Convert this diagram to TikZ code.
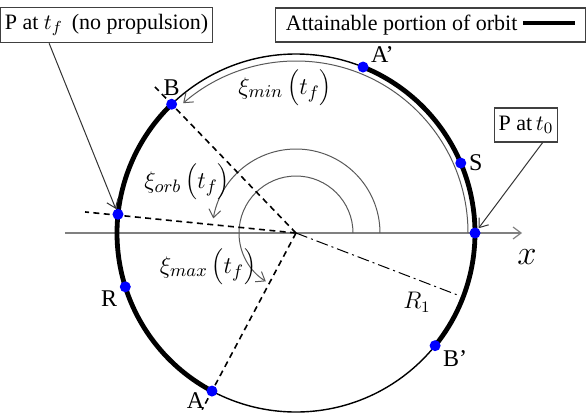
\documentclass[tikz,border=0pt]{standalone}
\usepackage{fontspec}
\setmainfont{Liberation Serif}
\usetikzlibrary{arrows.meta, positioning, calc}

\begin{document}
\begin{tikzpicture}[
  x=5pt, y=5pt,
  >={Straight Barb[length=4pt,width=6pt]},
  dot/.style={circle, fill=blue, inner sep=0pt, minimum size=5.5pt},
  ptlabel/.style={font=\fontsize{12}{14}\selectfont, inner sep=1pt},
  infobox/.style={rectangle, draw=black!75, line width=0.6pt, minimum height=17pt, inner xsep=2pt, font=\fontsize{11}{13}\selectfont},
  orbit/.style={line width=0.7pt},
  attain/.style={line width=2.4pt},
  ray/.style={line width=0.8pt, dash pattern=on 3pt off 2.2pt},
  sweep/.style={->, draw=black!65, line width=0.5pt},
  leader/.style={->, draw=black!80, line width=0.5pt},
  anglab/.style={font=\fontsize{13}{15}\selectfont}
]
  \useasboundingbox (-29.6,-18.0) rectangle (29.1,23.3);
  \coordinate (O) at (0,0);
  \coordinate (xl) at (-23.1,0);
  \coordinate (xr) at (22.6,0);
  \coordinate (rB) at (134:20.3);
  \coordinate (rPf) at (174.3:21.2);
  \coordinate (rA) at (242:20.0);
  \coordinate (rR1) at (-21:17.6);

  % axis, orbit and attainable arcs
  \draw[->, draw=black!50, line width=0.6pt] (xl) -- (xr);
  \draw[orbit] (O) circle[radius=17.9];
  \draw[attain] (-39:17.9) arc[start angle=-39, end angle=68, radius=17.9];
  \draw[attain] (134:17.9) arc[start angle=134, end angle=242, radius=17.9];

  % swept angles
  \draw[sweep] (0:17.2) arc[start angle=0, end angle=131, radius=17.2];
  \draw[sweep] (0:8.4) arc[start angle=0, end angle=170, radius=8.4];
  \draw[sweep] (0:5.7) arc[start angle=0, end angle=238, radius=5.7];

  % rays
  \draw[ray] (O) -- (rB);
  \draw[ray] (O) -- (rPf);
  \draw[ray] (O) -- (rA);
  \draw[line width=0.5pt, dash pattern=on 6pt off 2pt on 1pt off 2pt] (O) -- (rR1);

  % points on the orbit
  \node[dot, label={[ptlabel]20:A'}] (pAp) at (68:17.9) {};
  \node[dot, label={[ptlabel]above:B}] (pB) at (134:17.9) {};
  \node[dot] (pPf) at (174:17.9) {};
  \node[dot, label={[ptlabel]195:R}] (pR) at (197.5:17.9) {};
  \node[dot, label={[ptlabel, yshift=1.5pt]205:A}] (pA) at (242:17.9) {};
  \node[dot, label={[ptlabel]-20:B'}] (pBp) at (321:17.9) {};
  \node[dot, label={[ptlabel]right:S}] (pS) at (23:17.9) {};
  \node[dot] (pP0) at (0:17.9) {};

  % angle and axis labels
  \node[anglab] (lmin) at (-1.1,14.5) {$\xi_{min}\left(t_f\right)$};
  \node[anglab] (lorb) at (-10.9,5.1) {$\xi_{orb}\left(t_f\right)$};
  \node[anglab] (lmax) at (-8.8,-3.4) {$\xi_{max}\left(t_f\right)$};
  \node[font=\fontsize{12}{14}\selectfont] (lR1) at (12.1,-6.9) {$R_1$};
  \node[font=\fontsize{17}{19}\selectfont] (lx) at (23.1,-2.4) {$x$};

  % boxes and leaders
  \node[infobox, minimum width=96.5pt] (boxPf) at (-18.95,20.8) {P at $t_f$ \,(no propulsion)};
  \node[infobox, anchor=east, minimum width=155pt] (boxLeg) at (29.0,20.8) {Attainable portion of orbit \rule[0.5ex]{26pt}{2pt}};
  \node[infobox] (boxP0) at (23.0,10.8) {P at\,$t_0$};
  \draw[leader] ($(boxPf.south west)!0.23!(boxPf.south east)$) -- (pPf);
  \draw[leader] ($(boxP0.south west)!0.76!(boxP0.south east)$) -- (pP0);
\end{tikzpicture}
\end{document}
